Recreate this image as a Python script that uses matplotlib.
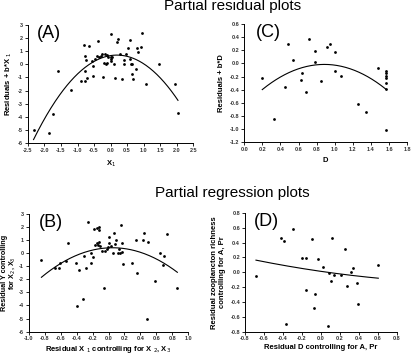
import numpy as np
import matplotlib
matplotlib.use("Agg")
import matplotlib.pyplot as plt

plt.rcParams['font.family'] = ['Liberation Sans', 'DejaVu Sans']

# --- data ---
a_x = [-2.33, -1.87, -1.74, -1.58, -1.21, -0.89, -0.79, -0.76, -0.78, -0.77, -0.72,
       -0.73, -0.66, -0.54, -0.53, -0.55, -0.48, -0.42, -0.37, -0.36, -0.27, -0.23,
       -0.20, -0.17, -0.15, -0.11, -0.07, 0.0, 0.0, 0.01, 0.02, 0.11, 0.13, 0.19,
       0.22, 0.30, 0.36, 0.40, 0.40, 0.48, 0.52, 0.58, 0.60, 0.61, 0.66, 0.66, 0.68,
       0.77, 0.79, 0.82, 0.92, 0.94, 1.07, 1.47, 1.94, 2.04, -0.30, -0.10, 0.05]
a_y = [-5.0, -5.25, -3.78, -0.5, -1.93, -1.29, 1.5, 0.66, -0.48, -1.24, -1.07,
       0.33, 1.4, -0.13, -0.89, 0.25, 0.38, 0.66, 1.78, 0.58, 0.79, -0.99,
       0.13, 0.76, 0.0, 0.08, 0.58, 2.33, 0.58, 0.38, 0.28, 0.03, -1.04, 1.68,
       1.95, 0.79, -1.12, 0.36, 0.03, 0.76, 1.22, 1.85, 0.38, 0.03, 0.03, -0.74, -1.12,
       -0.38, 1.22, 0.96, 1.35, 2.41, -1.5, 0.03, -1.5, -3.73, 0.62, 0.70, 0.55]
a_fit = [-1.01, 0.39, 0.66]
a_range = [-2.33, 2.04]

c_x = [0.20, 0.327, 0.453, 0.486, 0.535, 0.627, 0.642, 0.687, 0.713, 0.783, 0.787,
       0.843, 0.913, 0.950, 1.002, 1.002, 1.065, 1.258, 1.347, 1.474,
       1.570, 1.570, 1.570, 1.570, 1.570, 1.570, 1.570]
c_y = [-0.23, -0.85, -0.365, 0.30, 0.046, -0.254, -0.142, -0.436, 0.375, 0.193, 0.02,
       -0.274, 0.254, 0.294, 0.167, -0.117, -0.188, -0.614, -0.745, -0.066,
       -0.117, -0.152, -0.188, -0.223, -0.294, -0.39, -1.02]
c_fit = [-0.82, 1.451, -0.657]
c_range = [0.20, 1.57]

b_x = [-0.844, -0.67, -0.624, -0.608, -0.536, -0.506, -0.41, -0.397, -0.371, -0.316,
       -0.308, -0.278, -0.257, -0.224, -0.215, -0.198, -0.177, -0.148, -0.122, -0.169,
       -0.148, -0.135, -0.105, -0.114, -0.084, -0.059, -0.042, -0.021, -0.008, 0.0,
       0.008, 0.034, 0.055, 0.068, 0.084, 0.10, 0.114, 0.127, 0.143, 0.16, 0.165,
       0.165, 0.186, 0.30, 0.342, 0.359, 0.43, 0.44, 0.485, 0.498, 0.578, 0.641,
       0.679, 0.696, 0.738, 0.857, -0.122]
b_y = [-0.50, -1.13, -1.16, -0.76, -0.58, 0.81, -0.78, -4.06, -1.29, -3.5,
       -0.18, -1.11, 2.37, -0.71, 0.05, -0.28, 1.89, 1.91, 1.99, 0.63,
       0.78, 0.6, 0.55, 0.86, 0.18, -2.7, 0.18, 0.33, 0.5, 1.26,
       0.81, 0.55, 0.0, 1.56, 0.68, 0.98, 0.05, 0.33, 0.05, 2.14, 0.81,
       0.13, -0.83, -0.71, 0.98, -1.51, 0.98, 1.56, -5.04, 0.86, -2.14, 0.03,
       -0.88, -0.25, 1.46, -2.7, 1.78]
b_fit = [-2.83, 0.283, 0.413]
b_range = [-0.844, 0.865]

d_x = [-0.684, -0.42, -0.392, -0.364, -0.297, -0.195, -0.156, -0.16, -0.093, -0.062,
       -0.033, -0.069, 0.026, 0.086, 0.079, 0.107, 0.114, 0.132, 0.213, 0.255,
       0.272, 0.315, 0.336, 0.381, 0.388, 0.603]
d_y = [-0.053, 0.467, 0.42, -0.70, 0.59, 0.187, 0.196, -0.236, 0.444, -0.289,
       0.173, -0.476, 0.067, -0.004, -0.724, -0.124, 0.458, -0.031, -0.031, 0.311,
       -0.187, 0.009, 0.053, -0.147, -0.431, 0.102]
d_fit = [0.053, -0.185, 0.0125]
d_range = [-0.684, 0.603]

fig = plt.figure(figsize=(4.11, 3.55), dpi=100)

panels = [
    ("(A)", [0.068, 0.597, 0.402, 0.333], a_x, a_y, a_fit, a_range,
     (-2.5, 2.5, 0.5), (-6, 3, 1), "%.1f", "%d",
     "X$_1$", "Residuals + b*X $_1$", 0.055, 4, None),
    ("(C)", [0.594, 0.600, 0.397, 0.332], c_x, c_y, c_fit, c_range,
     (0.0, 1.8, 0.2), (-1.2, 0.6, 0.2), "%.1f", "%.1f",
     "D", "Residuals + b*D", 0.074, 4, None),
    ("(B)", [0.0706, 0.066, 0.387, 0.331], b_x, b_y, b_fit, b_range,
     (-1.0, 1.0, 0.2), (-6, 3, 1), "%.1f", "%d",
     "Residual X $_1$ controlling for X $_{2}$, X$_3$",
     "Residual Y controlling\nfor X$_2$, X$_3$", 0.063, 1.5, -0.075),
    ("(D)", [0.596, 0.066, 0.370, 0.334], d_x, d_y, d_fit, d_range,
     (-0.8, 0.8, 0.2), (-0.8, 0.8, 0.2), "%.1f", "%.1f",
     "Residual D controlling for A, Pr",
     "Residual zooplancton richness\ncontrolling for A, Pr", 0.06, 1.5, None),
]

for (tag, rect, xs, ys, fit, rng, xt, yt, xf, yf, xl, yl, tx, xpad, ylx) in panels:
    ax = fig.add_axes(rect)
    ax.scatter(xs, ys, s=4, color="black", zorder=3, linewidths=0)
    xx = np.linspace(rng[0], rng[1], 200)
    ax.plot(xx, np.polyval(fit, xx), color="black", lw=0.8)
    xticks = np.arange(xt[0], xt[1] + xt[2] / 2, xt[2])
    yticks = np.arange(yt[0], yt[1] + yt[2] / 2, yt[2])
    ax.set_xlim(xt[0], xt[1])
    ax.set_ylim(yt[0], yt[1])
    ax.set_xticks(xticks)
    ax.set_yticks(yticks)
    ax.set_xticklabels([xf % v if abs(v) > 1e-9 else xf % 0 for v in xticks])
    ax.set_yticklabels([yf % v if abs(v) > 1e-9 else yf % 0 for v in yticks])
    ax.tick_params(labelsize=4, length=2, width=0.6, pad=1.5, colors="black")
    for lab in ax.get_xticklabels() + ax.get_yticklabels():
        lab.set_fontweight("bold")
        lab.set_color("#333333")
    ax.spines["top"].set_visible(False)
    ax.spines["right"].set_visible(False)
    ax.spines["left"].set_linewidth(0.7)
    ax.spines["bottom"].set_linewidth(0.7)
    ax.set_xlabel(xl, fontsize=5.5, fontweight="bold", labelpad=xpad)
    if ylx is not None:
        ax.set_ylabel(yl, fontsize=5.2, fontweight="bold", linespacing=1.0)
        ax.yaxis.set_label_coords(ylx, 0.5)
    else:
        ax.set_ylabel(yl, fontsize=5.5, fontweight="bold", labelpad=3)
    ax.text(tx, 1.0, tag, transform=ax.transAxes, fontsize=13, va="top", ha="left")

fig.text(0.565, 0.972, "Partial residual plots", fontsize=11, ha="center", va="baseline")
fig.text(0.565, 0.445, "Partial regression plots", fontsize=11, ha="center", va="baseline")

fig.savefig("out.png", dpi=100)
